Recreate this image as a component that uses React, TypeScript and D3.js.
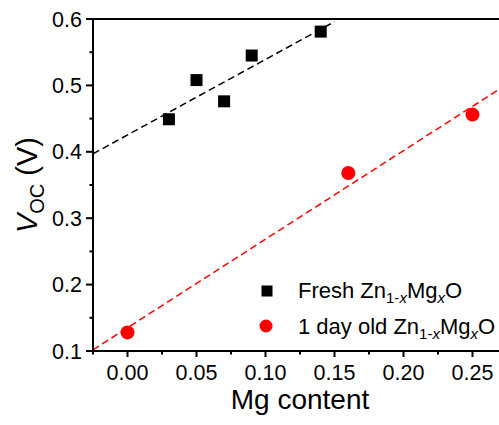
import React from "react";
import * as d3 from "d3";

const freshX = [0.03, 0.05, 0.07, 0.09, 0.14];
const freshY = [0.449, 0.508, 0.476, 0.545, 0.581];
const oldX = [0.0, 0.16, 0.25];
const oldY = [0.128, 0.368, 0.456];
const xTicks = [0.0, 0.05, 0.1, 0.15, 0.2, 0.25];
const yTicks = [0.1, 0.2, 0.3, 0.4, 0.5, 0.6];
const xDomain = [-0.025, 0.275];
const yDomain = [0.1, 0.6];
const freshFitRange = [-0.025, 0.15];
const oldFitRange = [-0.025, 0.275];

const W = 499, H = 425;
const L = 93, T = 19, B = 351, R = 507;
const FONT = "'Liberation Sans', Arial, sans-serif";

function fit(xs: number[], ys: number[]) {
  const mx = d3.mean(xs)!, my = d3.mean(ys)!;
  const sxy = d3.sum(xs.map((x, i) => (x - mx) * (ys[i] - my)));
  const sxx = d3.sum(xs.map((x) => (x - mx) ** 2));
  const m = sxy / sxx;
  return (x: number) => my + m * (x - mx);
}

export default function App() {
  const x = d3.scaleLinear().domain(xDomain).range([L, R]);
  const y = d3.scaleLinear().domain(yDomain).range([B, T]);
  const fF = fit(freshX, freshY);
  const fO = fit(oldX, oldY);
  const xMinor = d3.range(0, 11).map((i) => -0.025 + i * 0.05);
  const yMinor = d3.range(0, 5).map((i) => 0.15 + i * 0.1);
  const lf = d3.line<number>().x((d) => x(d)).y((d) => y(fF(d)));
  const lo = d3.line<number>().x((d) => x(d)).y((d) => y(fO(d)));
  const sq = 12;
  return (
    <svg width={W} height={H} style={{ position: "absolute", left: 0, top: 0, background: "#fff" }} fontFamily={FONT}>
      <defs>
        <clipPath id="plot">
          <rect x={L} y={T} width={R - L} height={B - T} />
        </clipPath>
      </defs>
      <g clipPath="url(#plot)">
        <path d={lf(freshFitRange) || ""} stroke="#000" strokeWidth={1.5} strokeDasharray="7,4" fill="none" />
        <path d={lo(oldFitRange) || ""} stroke="#ff0000" strokeWidth={1.5} strokeDasharray="7,4" fill="none" />
      </g>
      {freshX.map((d, i) => (
        <rect key={"f" + i} x={x(d) - sq / 2} y={y(freshY[i]) - sq / 2} width={sq} height={sq} fill="#000" />
      ))}
      {oldX.map((d, i) => (
        <circle key={"o" + i} cx={x(d)} cy={y(oldY[i])} r={7} fill="#ff0000" />
      ))}
      <line x1={L} x2={L} y1={T - 1} y2={B + 1} stroke="#000" strokeWidth={2} />
      <line x1={L - 1} x2={W} y1={B} y2={B} stroke="#000" strokeWidth={2} />
      <line x1={L - 1} x2={W} y1={T} y2={T} stroke="#000" strokeWidth={2} />
      {xTicks.map((t) => (
        <g key={"xt" + t}>
          <line x1={x(t)} x2={x(t)} y1={B} y2={B + 6} stroke="#000" strokeWidth={2} />
          <text x={x(t)} y={380} textAnchor="middle" fontSize={21.5}>{t.toFixed(2)}</text>
        </g>
      ))}
      {xMinor.map((t) => (
        <line key={"xm" + t} x1={x(t)} x2={x(t)} y1={B} y2={B + 3.5} stroke="#000" strokeWidth={2} />
      ))}
      {yTicks.map((t) => (
        <g key={"yt" + t}>
          <line x1={L - 7} x2={L} y1={y(t)} y2={y(t)} stroke="#000" strokeWidth={2} />
          <text x={82} y={y(t) + 7.5} textAnchor="end" fontSize={21.5}>{t.toFixed(1)}</text>
        </g>
      ))}
      {yMinor.map((t) => (
        <line key={"ym" + t} x1={L - 3.5} x2={L} y1={y(t)} y2={y(t)} stroke="#000" strokeWidth={2} />
      ))}
      <text x={(L + R) / 2} y={409} textAnchor="middle" fontSize={28}>Mg content</text>
      <text transform={`translate(37, ${(T + B) / 2}) rotate(-90)`} textAnchor="middle" fontSize={29}>
        <tspan fontStyle="italic">V</tspan>
        <tspan fontSize={20} dy={7}>OC</tspan>
        <tspan dy={-7}> (V)</tspan>
      </text>
      <rect x={267 - 5.5} y={291 - 5.5} width={11} height={11} fill="#000" />
      <circle cx={266} cy={326} r={6.5} fill="#ff0000" />
      <text x={298} y={298} fontSize={22}>
        Fresh Zn<tspan fontSize={15} dy={5}>1-</tspan><tspan fontSize={15} fontStyle="italic">x</tspan>
        <tspan dy={-5}>Mg</tspan><tspan fontSize={15} dy={5} fontStyle="italic">x</tspan><tspan dy={-5}>O</tspan>
      </text>
      <text x={298} y={334} fontSize={22}>
        1 day old Zn<tspan fontSize={15} dy={5}>1-</tspan><tspan fontSize={15} fontStyle="italic">x</tspan>
        <tspan dy={-5}>Mg</tspan><tspan fontSize={15} dy={5} fontStyle="italic">x</tspan><tspan dy={-5}>O</tspan>
      </text>
    </svg>
  );
}
